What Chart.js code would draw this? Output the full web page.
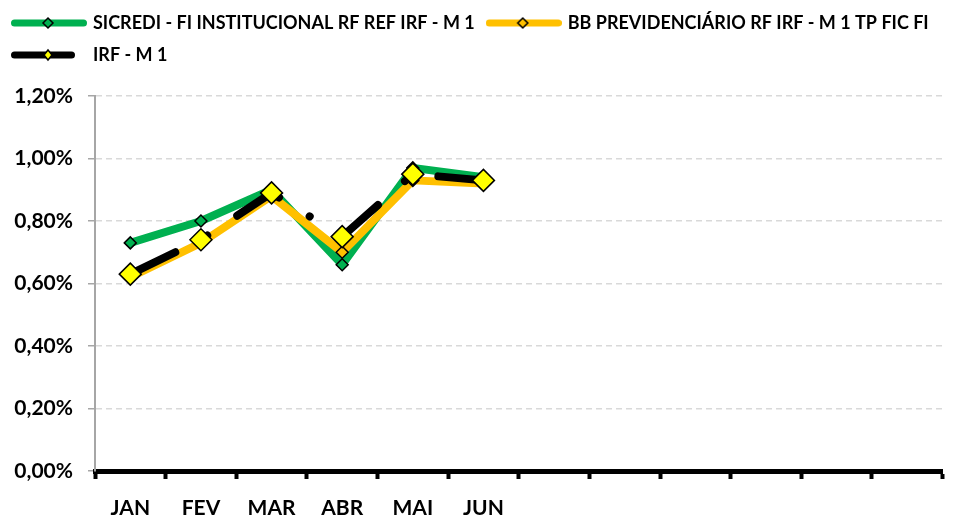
<!DOCTYPE html>
<html>
<head>
<meta charset="utf-8">
<script src="https://cdn.jsdelivr.net/npm/chart.js@4.4.1/dist/chart.umd.min.js"></script>
<style>
    html, body { margin: 0; padding: 0; background: #fff; }
</style>
</head>
<body>
<canvas id="myChart" width="955" height="518"></canvas>
<script>
"use strict";

const months = ['JAN', 'FEV', 'MAR', 'ABR', 'MAI', 'JUN', '', '', '', '', '', ''];
const sicredi = [0.73, 0.80, 0.90, 0.66, 0.97, 0.94];
const bbPrev = [0.62, 0.73, 0.88, 0.70, 0.93, 0.92];
const irfM1 = [0.63, 0.74, 0.89, 0.75, 0.95, 0.93];
const yTicks = [0, 0.2, 0.4, 0.6, 0.8, 1.0, 1.2];

const GREEN = '#00B050';
const ORANGE = '#FFC000';
const YELLOW = '#FFFF00';

// little "line + diamond" picture used as the legend symbol
const legendSample = (lineColor, fill, lineEnd, hw, hh) => {
    const c = document.createElement('canvas');
    c.width = 76;
    c.height = 20;
    const g = c.getContext('2d');
    g.lineCap = 'round';
    g.lineWidth = 7;
    g.strokeStyle = lineColor;
    g.beginPath();
    g.moveTo(3.5, 10);
    g.lineTo(lineEnd - 3.5, 10);
    g.stroke();
    g.beginPath();
    g.moveTo(37 - hw, 10);
    g.lineTo(37, 10 - hh);
    g.lineTo(37 + hw, 10);
    g.lineTo(37, 10 + hh);
    g.closePath();
    g.fillStyle = fill;
    g.fill();
    g.lineWidth = 1.5;
    g.strokeStyle = '#000';
    g.stroke();
    return c;
};

const samples = [
    legendSample(GREEN, GREEN, 76, 5, 5),
    legendSample(ORANGE, ORANGE, 76, 5, 5),
    legendSample('#000', YELLOW, 64, 4, 5)
];

// legend takes the whole band above the plot, and keeps two items on row one
const legendHeight = {
    id: 'legendHeight',
    beforeInit(chart) {
        const fit = chart.legend.fit;
        chart.legend.fit = function () {
            this.maxWidth += 100;
            fit.call(this);
            this.maxWidth -= 100;
            this.width = this.maxWidth;
            this.height = 96;
        };
    }
};

const pct = (v) => v.toFixed(2).replace('.', ',') + '%';

const ctx = document.getElementById('myChart');

new Chart(ctx, {
    type: 'line',
    data: {
        labels: months,
        datasets: [{
            label: 'SICREDI - FI INSTITUCIONAL RF REF IRF - M 1',
            data: sicredi,
            borderColor: GREEN,
            backgroundColor: GREEN,
            borderWidth: 8,
            borderJoinStyle: 'round',
            pointStyle: 'rectRot',
            pointRadius: 6,
            pointBackgroundColor: GREEN,
            pointBorderColor: '#000',
            pointBorderWidth: 1.5,
            order: 2
        }, {
            label: 'BB PREVIDENCIÁRIO RF IRF - M 1 TP FIC FI',
            data: bbPrev,
            borderColor: ORANGE,
            backgroundColor: ORANGE,
            borderWidth: 8,
            borderJoinStyle: 'round',
            pointStyle: 'rectRot',
            pointRadius: 6,
            pointBackgroundColor: ORANGE,
            pointBorderColor: '#000',
            pointBorderWidth: 1.5,
            order: 1
        }, {
            label: 'IRF - M 1',
            data: irfM1,
            borderColor: '#000',
            backgroundColor: '#000',
            borderWidth: 8,
            borderDash: [50, 36, 0.1, 36],
            borderCapStyle: 'round',
            borderJoinStyle: 'round',
            pointStyle: 'rectRot',
            pointRadius: 11,
            pointBackgroundColor: YELLOW,
            pointBorderColor: '#000',
            pointBorderWidth: 1.5,
            order: 0
        }]
    },
    options: {
        responsive: false,
        animation: false,
        layout: { padding: { left: 0, right: 8, top: 0, bottom: 0 } },
        plugins: {
            tooltip: { enabled: false },
            legend: {
                position: 'top',
                align: 'start',
                labels: {
                    usePointStyle: true,
                    pointStyleWidth: 70,
                    padding: 14,
                    color: '#000',
                    font: { family: 'Lato', weight: 'bold', size: 18 },
                    sort: (a, b) => a.datasetIndex - b.datasetIndex,
                    generateLabels: (chart) => {
                        const items = Chart.defaults.plugins.legend.labels.generateLabels(chart);
                        items.forEach(item => {
                            item.pointStyle = samples[item.datasetIndex];
                            item.rotation = 0;
                        });
                        return items;
                    }
                }
            }
        },
        scales: {
            x: {
                offset: true,
                grid: {
                    offset: true,
                    drawOnChartArea: false,
                    drawTicks: true,
                    tickLength: 8,
                    tickColor: '#000',
                    tickWidth: 4
                },
                border: { display: true, color: '#000', width: 5 },
                ticks: {
                    color: '#000',
                    font: { family: 'Lato', weight: 'bold', size: 21 },
                    padding: 17,
                    maxRotation: 0,
                    autoSkip: false
                },
                afterFit: (scale) => { scale.height = 47; }
            },
            y: {
                min: 0,
                max: 1.2,
                afterBuildTicks: (scale) => {
                    scale.ticks = yTicks.map(v => ({ value: v }));
                },
                grid: {
                    color: (c) => c.tick && c.tick.value === 0 ? 'rgba(0,0,0,0)' : '#D9D9D9',
                    lineWidth: 1.5,
                    tickLength: 7,
                    tickColor: '#A6A6A6',
                    tickWidth: 1.5
                },
                border: { display: true, color: '#A6A6A6', width: 2, dash: [6, 4] },
                ticks: {
                    color: '#000',
                    font: { family: 'Lato', weight: 'bold', size: 21 },
                    padding: 15,
                    callback: (v) => pct(v)
                },
                afterFit: (scale) => { scale.width = 95; }
            }
        }
    },
    plugins: [legendHeight]
});
</script>
</body>
</html>
